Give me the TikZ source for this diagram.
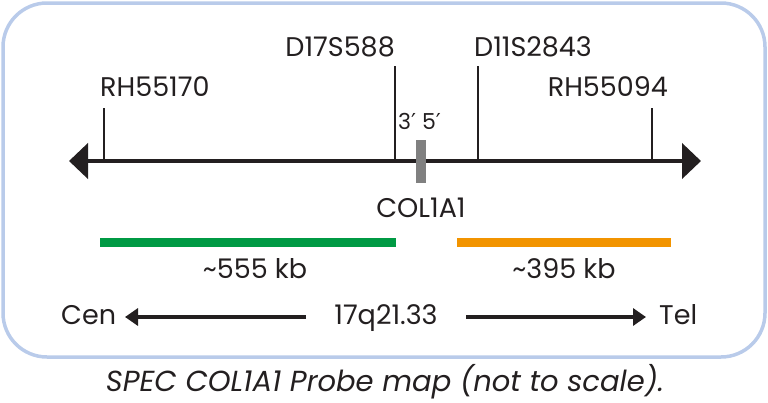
\documentclass[tikz,border=0pt]{standalone}
\usepackage{fontspec}
\setmainfont{Poppins}
\newfontfamily\primefont{DejaVu Sans}
\usetikzlibrary{arrows.meta}
\definecolor{frameblue}{HTML}{B9CBEA}
\definecolor{ink}{HTML}{231F20}
\definecolor{probegreen}{HTML}{009A44}
\definecolor{probeorange}{HTML}{F29400}
\definecolor{genegray}{HTML}{808080}
\newcommand{\pr}{{\primefont ′}}
\tikzset{
  lbl/.style={inner sep=0pt, text=ink, font=\fontsize{27}{27}\selectfont},
  small/.style={inner sep=0pt, text=ink, font=\fontsize{22}{22}\selectfont},
  tick/.style={draw=ink, line width=2pt},
  axis/.style={draw=ink, line width=4.5pt, {Triangle[length=19pt,width=35pt]}-{Triangle[length=19pt,width=35pt]}},
  dirarrow/.style={draw=ink, line width=4.5pt, -{Triangle[length=13pt,width=17pt]}},
  probe/.style={line width=9pt},
}
\begin{document}
\begin{tikzpicture}[x=1pt,y=-1pt]
\useasboundingbox (0,0) rectangle (768,402);
% frame
\draw[frameblue, line width=3.5pt, rounded corners=44pt] (3,3) rectangle (765,357);
% axis
\coordinate (axL) at (69,161);
\coordinate (axR) at (701,161);
\draw[axis] (axL) -- (axR);
% ticks
\coordinate (t1top) at (104,108); \coordinate (t1bot) at (104,161);
\coordinate (t2top) at (395,66);  \coordinate (t2bot) at (395,161);
\coordinate (t3top) at (478,66);  \coordinate (t3bot) at (478,161);
\coordinate (t4top) at (652,108); \coordinate (t4bot) at (652,161);
\draw[tick] (t1top) -- (t1bot);
\draw[tick] (t2top) -- (t2bot);
\draw[tick] (t3top) -- (t3bot);
\draw[tick] (t4top) -- (t4bot);
% labels
\node[lbl, anchor=base west] (rh1) at (100,96) {RH55170};
\node[lbl, anchor=base east] (d17) at (395,56) {D17S588};
\node[lbl, anchor=base west] (d11) at (474,56) {D11S2843};
\node[lbl, anchor=base east] (rh2) at (668,96) {RH55094};
\node[small, anchor=base west] (prime) at (398,129) {3\pr\ 5\pr};
% gene
\coordinate (gtop) at (421,140);
\coordinate (gbot) at (421,183);
\draw[genegray, line width=10pt] (gtop) -- (gbot);
\node[lbl, anchor=base] (col) at (421,217) {COL1A1};
% probes
\coordinate (gL) at (100,242); \coordinate (gR) at (396,242);
\coordinate (oL) at (457,242); \coordinate (oR) at (671,242);
\draw[probe, probegreen] (gL) -- (gR);
\draw[probe, probeorange] (oL) -- (oR);
\node[lbl, anchor=base] (kb1) at (255,278) {\textasciitilde555 kb};
\node[lbl, anchor=base] (kb2) at (564,278) {\textasciitilde395 kb};
% bottom row
\node[lbl, anchor=base west] (cen) at (61,324) {Cen};
\node[lbl, anchor=base] (band) at (386,324) {17q21.33};
\node[lbl, anchor=base west] (tel) at (659,324) {Tel};
\coordinate (la) at (306,317); \coordinate (lb) at (125,317);
\coordinate (ra) at (466,317); \coordinate (rb) at (646,317);
\draw[dirarrow] (la) -- (lb);
\draw[dirarrow] (ra) -- (rb);
% caption
\node[lbl, anchor=base, font=\fontsize{29}{29}\selectfont\itshape] (cap) at (385,391) {SPEC COL1A1 Probe map (not to scale).};
\end{tikzpicture}
\end{document}
